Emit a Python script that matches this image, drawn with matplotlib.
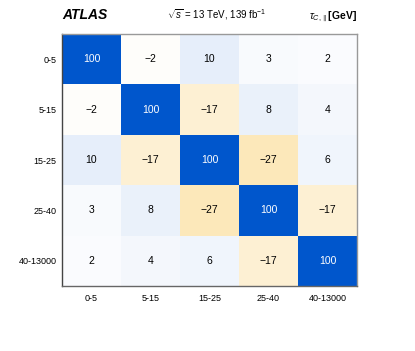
import numpy as np
import matplotlib.pyplot as plt
from matplotlib.colors import LinearSegmentedColormap

plt.rcParams['font.family'] = ['Liberation Sans', 'DejaVu Sans']
plt.rcParams['mathtext.fontset'] = 'custom'
plt.rcParams['mathtext.rm'] = 'Liberation Sans'
plt.rcParams['mathtext.it'] = 'Liberation Sans:italic'

bins = ["0-5", "5-15", "15-25", "25-40", "40-13000"]
corr = np.array([
    [100, -2, 10, 3, 2],
    [-2, 100, -17, 8, 4],
    [10, -17, 100, -27, 6],
    [3, 8, -27, 100, -17],
    [2, 4, 6, -17, 100],
])

cmap = LinearSegmentedColormap.from_list(
    "atl", [(0.0, (0.96, 0.67, 0.0)), (0.5, (1, 1, 1)), (1.0, (0.0, 0.34, 0.8))])

fig = plt.figure(figsize=(4.15, 3.51), dpi=100)
ax = fig.add_axes([62/415, 1-286/351, 295/415, 252/351])
ax.imshow(corr, cmap=cmap, vmin=-100, vmax=100, aspect='auto')

n = len(bins)
for i in range(n):
    for j in range(n):
        v = corr[i, j]
        txt = str(v).replace('-', '\u2212')
        ax.text(j, i, txt, ha='center', va='center', fontsize=7.5,
                color='white' if v > 50 else 'black')

ax.set_xticks(range(n))
ax.set_xticklabels(bins, fontsize=6.5)
ax.set_yticks(range(n))
ax.set_yticklabels(bins, fontsize=6.5)
ax.tick_params(axis='x', length=0, pad=6)
ax.tick_params(axis='y', length=0, pad=4)
for s in ax.spines.values():
    s.set_color('#999999')
    s.set_linewidth(1.0)
ax.spines['left'].set_color('#444444')
ax.spines['bottom'].set_color('#666666')

fig.text(62/415, 1-19/351, "ATLAS", fontsize=10, fontweight='bold', style='italic')
fig.text(217/415, 1-19/351, r"$\sqrt{s}$ = 13 TeV, 139 fb$^{-1}$", fontsize=7, ha='center')
fig.text(357/415, 1-19/351, r"$\tau_{C,\parallel}$[GeV]", fontsize=7.5, ha='right',
         fontweight='bold')

fig.savefig("out.png", dpi=100)
